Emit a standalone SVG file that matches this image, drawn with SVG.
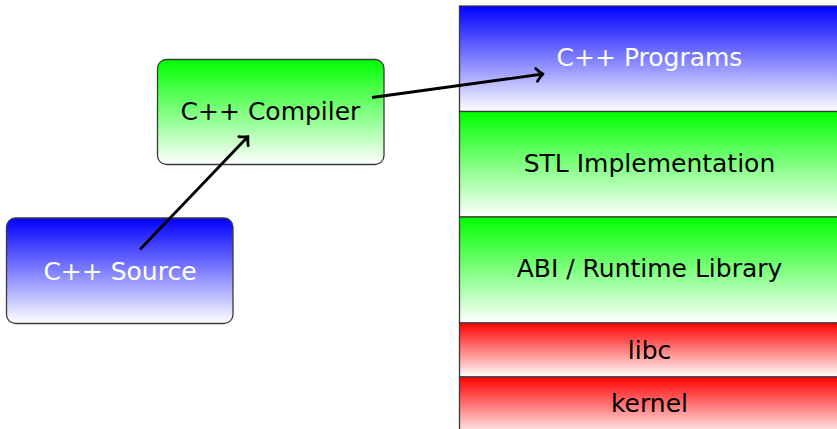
<svg xmlns="http://www.w3.org/2000/svg" width="837" height="429" viewBox="0 0 837 429">
<defs>
<linearGradient id="gBlue" x1="0" y1="0" x2="0" y2="1"><stop offset="0" stop-color="#0000ff"/><stop offset="1" stop-color="#ffffff"/></linearGradient>
<linearGradient id="gGreen" x1="0" y1="0" x2="0" y2="1"><stop offset="0" stop-color="#00ff00"/><stop offset="1" stop-color="#ffffff"/></linearGradient>
<linearGradient id="gRed" x1="0" y1="0" x2="0" y2="1"><stop offset="0" stop-color="#ff0000"/><stop offset="1" stop-color="#ffffff"/></linearGradient>
<marker id="arr" markerUnits="userSpaceOnUse" markerWidth="20" markerHeight="20" refX="10" refY="10" orient="auto" viewBox="0 0 20 20">
<path d="M3.5 3.5 Q7 8 10 10 Q7 12 3.5 16.5" fill="none" stroke="#000" stroke-width="2.8" stroke-linecap="round" stroke-linejoin="round"/>
</marker>
<style>
.box{stroke:#3a3a3a;stroke-width:1.3}
.t{font-family:"DejaVu Sans",sans-serif;font-size:25px;text-anchor:middle}
.w{fill:#fff}
.k{fill:#000}
.c{fill:none;stroke:#000;stroke-width:2.8;marker-end:url(#arr)}
</style>
</defs>
<rect width="837" height="429" fill="#fff"/>
<g id="node-compiler"><rect class="box" x="157.5" y="59.5" width="226.5" height="105" rx="9" fill="url(#gGreen)"/><text class="t k" x="270.5" y="120">C++ Compiler</text></g>
<g id="node-source"><rect class="box" x="6.5" y="218" width="226.5" height="105.5" rx="9" fill="url(#gBlue)"/><text class="t w" x="120" y="280">C++ Source</text></g>
<g id="node-programs"><rect class="box" x="459.5" y="6" width="390" height="105.5" fill="url(#gBlue)"/><text class="t w" x="649.5" y="66">C++ Programs</text></g>
<g id="node-stl"><rect class="box" x="459.5" y="111.5" width="390" height="105.5" fill="url(#gGreen)"/><text class="t k" x="649.5" y="172">STL Implementation</text></g>
<g id="node-abi"><rect class="box" x="459.5" y="217" width="390" height="106" fill="url(#gGreen)"/><text class="t k" x="649.5" y="277">ABI / Runtime Library</text></g>
<g id="node-libc"><rect class="box" x="459.5" y="323" width="390" height="54" fill="url(#gRed)"/><text class="t k" x="649.5" y="359">libc</text></g>
<g id="node-kernel"><rect class="box" x="459.5" y="377" width="390" height="60" fill="url(#gRed)"/><text class="t k" x="649.5" y="412">kernel</text></g>
<g id="connectors">
<path class="c" d="M140 249.5 L248 136.5"/>
<path class="c" d="M372 97.5 L543 74"/>
</g>
</svg>
